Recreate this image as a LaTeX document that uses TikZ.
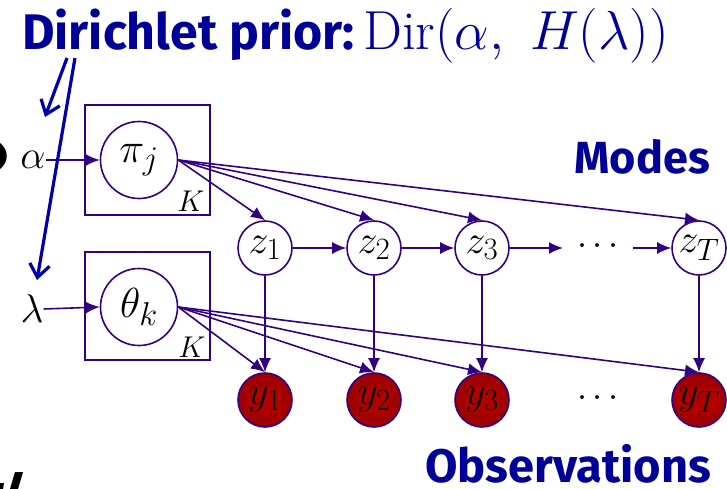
\RequirePackage{fix-cm}
\documentclass[tikz,border=0pt]{standalone}
\usepackage{fontspec}
\setsansfont{Fira Sans}
\usetikzlibrary{arrows.meta}
\DeclareMathSizes{42}{42}{33}{25}
\DeclareMathSizes{40}{40}{31}{24}
\definecolor{pur}{RGB}{50,0,130}
\definecolor{tblue}{RGB}{0,0,150}
\definecolor{ablue}{RGB}{0,0,170}
\definecolor{obsred}{RGB}{160,0,0}
\definecolor{boxred}{RGB}{178,0,0}
\tikzset{
  lbl/.style={font=\fontsize{40}{42}\selectfont, inner sep=0pt},
  param/.style={circle, draw=pur, line width=1.6pt, minimum size=77pt, inner sep=0pt, font=\fontsize{42}{44}\selectfont},
  latent/.style={circle, draw=pur, fill=white, line width=1.6pt, minimum size=54pt, inner sep=0pt, font=\fontsize{40}{42}\selectfont},
  obs/.style={latent, fill=obsred},
  plate/.style={draw=pur, line width=1.6pt},
  arr/.style={draw=pur, line width=1.6pt, -{Latex[length=14pt,width=12pt]}},
  barb/.style={draw=ablue, line width=3.2pt, -{Straight Barb[length=13pt,width=20pt,line width=3.2pt]}},
  head/.style={font=\fontsize{45}{48}\selectfont\sffamily\bfseries, text=tblue, inner sep=0pt, text depth=0pt},
  klbl/.style={font=\fontsize{30}{32}\selectfont, inner sep=0pt},
}
\setlength{\fboxsep}{0.5pt}
\begin{document}
\begin{tikzpicture}[x=1pt,y=-1pt]
\useasboundingbox (0,0) rectangle (727,489);
% title
\node[head, font=\fontsize{50}{54}\selectfont\sffamily\bfseries, anchor=base west] (title) at (22,50) {Dirichlet prior:};
\node[anchor=base west, inner sep=0pt, text=tblue, font=\fontsize{55}{80}\selectfont] (dir) at (363,50) {$\mathrm{Dir}\bigl(\alpha,\ H\bigl(\lambda\bigr)\bigr)$};
\coordinate (b1) at (67,58);
\coordinate (b2) at (75,58);
% plates
\draw[plate] (85,105) rectangle (210,215);
\draw[plate] (85,252) rectangle (210,360);
\node[klbl] (K1) at (191,201) {$K$};
\node[klbl] (K2) at (192,347) {$K$};
% hyperparameters
\node[lbl] (alpha) at (33,160) {$\alpha$};
\node[lbl] (lambda) at (32,309) {$\lambda$};
\node[param] (pi) at (139,160) {$\pi_j$};
\node[param] (theta) at (139,307) {$\theta_k$};
% latent chain
\node[latent] (z1) at (265,248) {$z_1$};
\node[latent] (z2) at (374,248) {$z_2$};
\node[latent] (z3) at (482,248) {$z_3$};
\node[lbl, font=\fontsize{36}{38}\selectfont] (zd) at (598,246) {$\cdots$};
\node[latent] (zT) at (699,248) {$z_T$};
% observations
\node[obs] (y1) at (265,400) {\colorbox{boxred}{$y_1$}};
\node[obs] (y2) at (374,400) {\colorbox{boxred}{$y_2$}};
\node[obs] (y3) at (482,400) {\colorbox{boxred}{$y_3$}};
\node[lbl, font=\fontsize{36}{38}\selectfont] (yd) at (598,398) {$\cdots$};
\node[obs] (yT) at (699,400) {\colorbox{boxred}{$y_T$}};
% labels
\node[head, anchor=base east] (modes) at (710,173) {Modes};
\node[head, font=\fontsize{47}{50}\selectfont\sffamily\bfseries, anchor=base east] (obsl) at (711,482) {Observations};
% edges
\draw[arr] (alpha.east) -- (pi.west);
\draw[arr] (lambda.east) -- (theta.west);
\foreach \n in {z1,z2,z3,zT} \draw[arr] (pi.east) -- (\n.north);
\foreach \n in {y1,y2,y3,yT} \draw[arr] (theta.east) -- (\n.north);
\draw[arr] (z1) -- (z2);
\draw[arr] (z2) -- (z3);
\draw[arr] (z3) -- (563,248);
\draw[arr] (633,248) -- (zT);
\draw[arr] (z1) -- (y1);
\draw[arr] (z2) -- (y2);
\draw[arr] (z3) -- (y3);
\draw[arr] (zT) -- (yT);
% blue pointers
\draw[barb] (b1) -- (45,117);
\draw[barb] (b2) -- (37,280);
% cropped fragments at the left edge
\fill (0,143) .. controls (9,150) and (9,162) .. (0,169) -- cycle;
\fill (15,472) -- (23,472) -- (18,489) -- (10,489) -- cycle;
\fill (0,483) -- (4,483) -- (3,489) -- (0,489) -- cycle;
\end{tikzpicture}
\end{document}
